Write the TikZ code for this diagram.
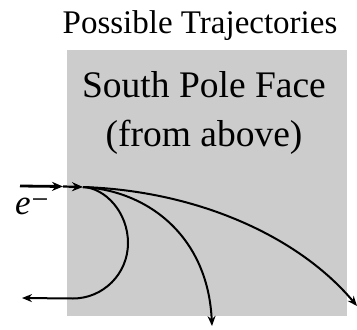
\documentclass[tikz,border=0pt]{standalone}
\usepackage{fontspec}
\setmainfont{Liberation Serif}
\usetikzlibrary{arrows.meta}
\definecolor{facegray}{HTML}{CCCCCC}
\tikzset{
  traj/.style={line width=2pt, -{Stealth[length=10pt,width=8pt]}},
  inc/.style={line width=2.8pt, -{Stealth[length=11pt,width=9pt]}},
  lbl/.style={inner sep=0pt, font=\fontsize{33}{40}\selectfont},
  facelbl/.style={inner sep=0pt, font=\fontsize{37.5}{44}\selectfont},
}
\begin{document}
\begin{tikzpicture}[x=1pt,y=-1pt]
\useasboundingbox (0,0) rectangle (357,330);
\fill[facegray] (67,50) rectangle (347,316);
\node[lbl, anchor=base] (title) at (200,33) {Possible Trajectories};
\node[facelbl, anchor=base] (face1) at (204,97) {South Pole Face};
\node[facelbl, anchor=base] (face2) at (204,146) {(from above)};
\node[inner sep=0pt, anchor=base west, font=\fontsize{35}{40}\selectfont] (e) at (15,214) {\textit{e}\hspace{1pt}\raisebox{0.12em}{\fontsize{30}{34}\selectfont −}};
\coordinate (in0) at (20,186);
\coordinate (in1) at (63,186.5);
\coordinate (s) at (83,187);
\coordinate (loopend) at (22,298);
\coordinate (midend) at (212,326);
\coordinate (farend) at (357,306);
\draw[inc] (in0) -- (in1);
\draw[inc, line width=2.2pt] (in1) -- (s);
\draw[traj] (s) .. controls (105,188) and (128,212) .. (128,243) .. controls (128,274) and (103,298.5) .. (73,298.5) -- (loopend);
\draw[traj] (s) .. controls (150,191) and (208,238) .. (midend);
\draw[traj] (s) .. controls (200,191) and (300,238) .. (farend);
\end{tikzpicture}
\end{document}
